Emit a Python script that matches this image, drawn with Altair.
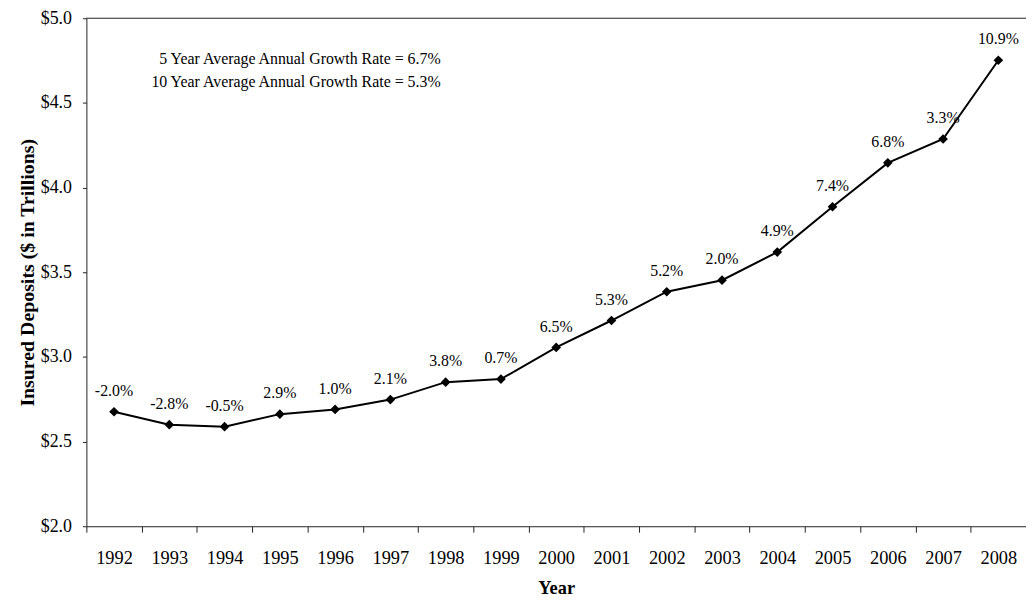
import altair as alt
import pandas as pd

years = [str(y) for y in range(1992, 2009)]
deposits = [2.676, 2.600, 2.588, 2.662, 2.690, 2.748, 2.851, 2.869, 3.056,
            3.215, 3.385, 3.453, 3.619, 3.887, 4.146, 4.287, 4.752]
growth = ["-2.0%", "-2.8%", "-0.5%", "2.9%", "1.0%", "2.1%", "3.8%", "0.7%",
          "6.5%", "5.3%", "5.2%", "2.0%", "4.9%", "7.4%", "6.8%", "3.3%", "10.9%"]
y_ticks = [2.0, 2.5, 3.0, 3.5, 4.0, 4.5, 5.0]
notes = ["5 Year Average Annual Growth Rate = 6.7%",
         "10 Year Average Annual Growth Rate = 5.3%"]

W = 947
H = 512
BW = W / len(years)
FONT = "Liberation Serif"
AX = "#222222"

df = pd.DataFrame({"Year": years, "Deposits": deposits, "Growth": growth})

x_enc = alt.X(
    "Year:O",
    title="Year",
    sort=years,
    scale=alt.Scale(type="band", paddingInner=0, paddingOuter=0),
    axis=alt.Axis(
        labelAngle=0,
        tickOffset=-BW / 2,
        labelOffset=BW / 2,
        tickSize=6,
        labelPadding=17,
        titlePadding=11,
        labelFontSize=18.5,
        titleFontSize=18.5,
        titleFontWeight="bold",
        domainColor=AX,
        tickColor=AX,
    ),
)
y_enc = alt.Y(
    "Deposits:Q",
    title="Insured Deposits ($ in Trillions)",
    scale=alt.Scale(domain=[2.0, 5.0], nice=False, zero=False),
    axis=alt.Axis(
        values=y_ticks,
        format="$.1f",
        grid=False,
        tickSize=4,
        labelPadding=11,
        titlePadding=3,
        labelFontSize=18,
        titleFontSize=20,
        titleFontWeight="bold",
        domainColor=AX,
        tickColor=AX,
    ),
)

base = alt.Chart(df)

line = base.mark_line(color="black", strokeWidth=2).encode(x=x_enc, y=y_enc)
pts = base.mark_point(shape="diamond", filled=True, size=95, color="black",
                      opacity=1).encode(x=x_enc, y=y_enc)
labels = base.mark_text(dy=-21, fontSize=16, font=FONT, color="black",
                        baseline="middle").encode(x=x_enc, y=y_enc, text="Growth:N")

top_rule = alt.Chart(pd.DataFrame({"top": [y_ticks[-1]]})).mark_rule(
    color=AX, strokeWidth=1).encode(y=alt.Y("top:Q"))

note = alt.Chart(pd.DataFrame({"t": [0]})).mark_text(
    text=notes, align="right", baseline="middle", lineHeight=23,
    fontSize=16, font=FONT, color="black").encode(
    x=alt.value(357), y=alt.value(41.5))

chart = alt.layer(top_rule, line, pts, labels, note).properties(
    width=W, height=H,
    autosize="none",
    padding={"left": 79, "top": 8, "right": 0, "bottom": 72},
).configure(font=FONT).configure_view(stroke=None).configure_axis(
    labelFont=FONT, titleFont=FONT, labelColor="black", titleColor="black"
)

chart.save("out.html", embed_options={"renderer": "svg", "actions": False})
